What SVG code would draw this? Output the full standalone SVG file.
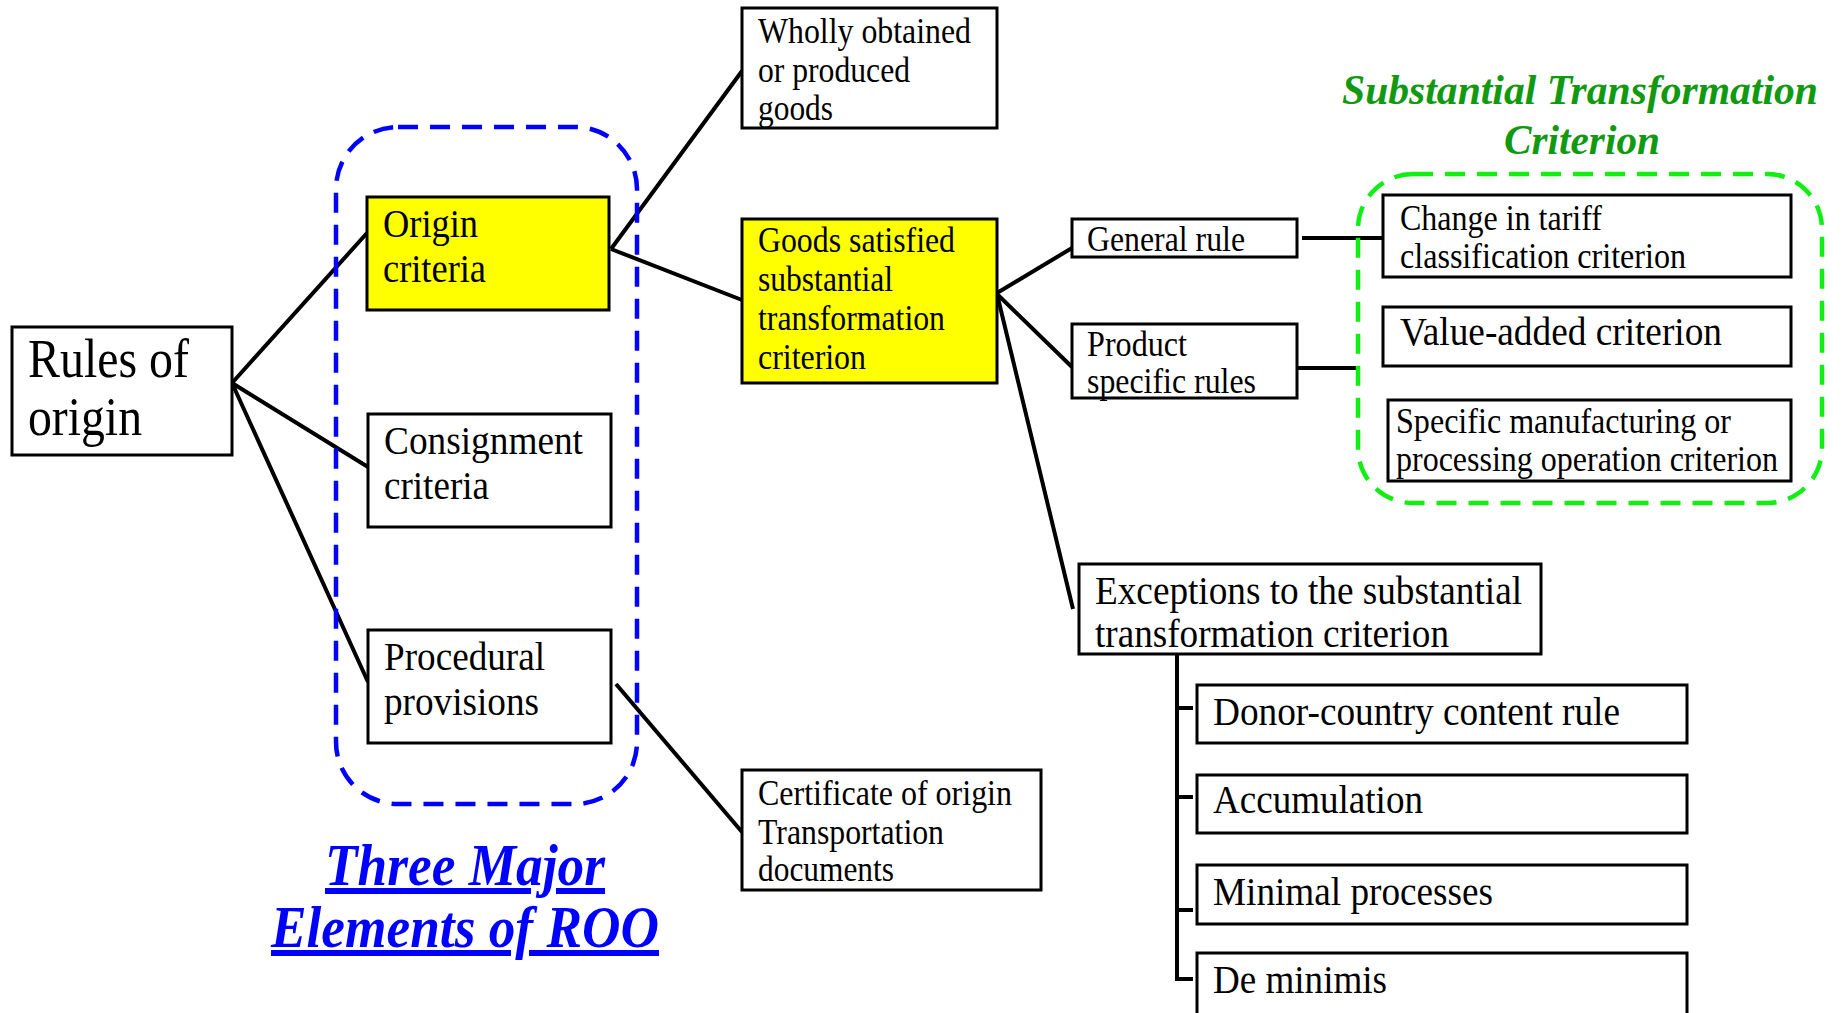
<svg xmlns="http://www.w3.org/2000/svg" width="1843" height="1013" viewBox="0 0 1843 1013">
<style>
.box{fill:#fff;stroke:#000;stroke-width:3}
.yel{fill:#ffff00;stroke:#000;stroke-width:3}
.t{font-family:"Liberation Serif","Times New Roman",serif;fill:#000}
.s{font-size:35px}
.m{font-size:41px}
.l{font-size:54px}
.con{stroke:#000;stroke-width:4;fill:none}
.blue{font-family:"Liberation Serif",serif;font-weight:bold;font-style:italic;font-size:60px;fill:#0000ff;text-decoration:underline}
.green{font-family:"Liberation Serif",serif;font-weight:bold;font-style:italic;font-size:42px;fill:#119911}
</style>
<rect width="1843" height="1013" fill="#fff"/>
<g id="connectors">
<path class="con" d="M232,383 L367,233 M232,383 L368,467 M232,383 L368,682"/>
<path class="con" d="M611,249 L742,71 M611,249 L742,300"/>
<path class="con" d="M616,684 L742,832"/>
<path class="con" d="M997,293 L1072,248 M997,294 L1072,367 M997,294 L1073,609"/>
<path class="con" stroke-width="5" d="M1302,238 L1383,238 M1297,368 L1356,368"/>
<path class="con" stroke-width="3" d="M1177,654 V979 H1193 M1177,708 H1193 M1177,797 H1193 M1177,910 H1193"/>
</g>
<g id="group-three-elements">
<rect x="336" y="127" width="301" height="677" rx="62" fill="none" stroke="#0000ff" stroke-width="4.5" stroke-dasharray="20,12"/>
<text class="blue" x="465" y="885" text-anchor="middle" textLength="280" lengthAdjust="spacingAndGlyphs">Three Major</text>
<text class="blue" x="465" y="947" text-anchor="middle" textLength="388" lengthAdjust="spacingAndGlyphs">Elements of ROO</text>
</g>
<g id="group-substantial">
<rect x="1358" y="174" width="464" height="329" rx="55" fill="none" stroke="#11ee11" stroke-width="4.5" stroke-dasharray="20,12"/>
<text class="green" x="1580" y="104" text-anchor="middle" textLength="476" lengthAdjust="spacingAndGlyphs">Substantial Transformation</text>
<text class="green" x="1582" y="154" text-anchor="middle" textLength="156" lengthAdjust="spacingAndGlyphs">Criterion</text>
</g>
<g id="rules-of-origin">
<rect class="box" x="12" y="327" width="220" height="128"/>
<text class="t l" x="28" y="377" textLength="161" lengthAdjust="spacingAndGlyphs">Rules of</text>
<text class="t l" x="28" y="435" textLength="114" lengthAdjust="spacingAndGlyphs">origin</text>
</g>
<g id="origin-criteria">
<rect class="yel" x="367" y="197" width="242" height="113"/>
<text class="t m" x="383" y="237" textLength="95" lengthAdjust="spacingAndGlyphs">Origin</text>
<text class="t m" x="383" y="282" textLength="103" lengthAdjust="spacingAndGlyphs">criteria</text>
</g>
<g id="consignment-criteria">
<rect class="box" x="368" y="414" width="243" height="113"/>
<text class="t m" x="384" y="454" textLength="199" lengthAdjust="spacingAndGlyphs">Consignment</text>
<text class="t m" x="384" y="499" textLength="105" lengthAdjust="spacingAndGlyphs">criteria</text>
</g>
<g id="procedural-provisions">
<rect class="box" x="368" y="630" width="243" height="113"/>
<text class="t m" x="384" y="670" textLength="161" lengthAdjust="spacingAndGlyphs">Procedural</text>
<text class="t m" x="384" y="715" textLength="155" lengthAdjust="spacingAndGlyphs">provisions</text>
</g>
<g id="wholly-obtained">
<rect class="box" x="742" y="8" width="255" height="120"/>
<text class="t s" x="758" y="43" textLength="213" lengthAdjust="spacingAndGlyphs">Wholly obtained</text>
<text class="t s" x="758" y="82" textLength="152" lengthAdjust="spacingAndGlyphs">or produced</text>
<text class="t s" x="758" y="120" textLength="75" lengthAdjust="spacingAndGlyphs">goods</text>
</g>
<g id="goods-satisfied">
<rect class="yel" x="742" y="219" width="255" height="164"/>
<text class="t s" x="758" y="252" textLength="197" lengthAdjust="spacingAndGlyphs">Goods satisfied</text>
<text class="t s" x="758" y="291" textLength="135" lengthAdjust="spacingAndGlyphs">substantial</text>
<text class="t s" x="758" y="330" textLength="187" lengthAdjust="spacingAndGlyphs">transformation</text>
<text class="t s" x="758" y="369" textLength="108" lengthAdjust="spacingAndGlyphs">criterion</text>
</g>
<g id="certificate">
<rect class="box" x="742" y="770" width="299" height="120"/>
<text class="t s" x="758" y="805" textLength="254" lengthAdjust="spacingAndGlyphs">Certificate of origin</text>
<text class="t s" x="758" y="844" textLength="186" lengthAdjust="spacingAndGlyphs">Transportation</text>
<text class="t s" x="758" y="881" textLength="136" lengthAdjust="spacingAndGlyphs">documents</text>
</g>
<g id="general-rule">
<rect class="box" x="1072" y="219" width="225" height="38"/>
<text class="t s" x="1087" y="251" textLength="158" lengthAdjust="spacingAndGlyphs">General rule</text>
</g>
<g id="product-specific">
<rect class="box" x="1072" y="324" width="225" height="74"/>
<text class="t s" x="1087" y="356" textLength="100" lengthAdjust="spacingAndGlyphs">Product</text>
<text class="t s" x="1087" y="393" textLength="169" lengthAdjust="spacingAndGlyphs">specific rules</text>
</g>
<g id="change-tariff">
<rect class="box" x="1383" y="195" width="408" height="82"/>
<text class="t s" x="1400" y="230" textLength="202" lengthAdjust="spacingAndGlyphs">Change in tariff</text>
<text class="t s" x="1400" y="268" textLength="286" lengthAdjust="spacingAndGlyphs">classification criterion</text>
</g>
<g id="value-added">
<rect class="box" x="1383" y="307" width="408" height="59"/>
<text class="t m" x="1400" y="345" textLength="322" lengthAdjust="spacingAndGlyphs">Value-added criterion</text>
</g>
<g id="specific-manufacturing">
<rect class="box" x="1388" y="400" width="403" height="81"/>
<text class="t s" x="1396" y="433" textLength="335" lengthAdjust="spacingAndGlyphs">Specific manufacturing or</text>
<text class="t s" x="1396" y="471" textLength="382" lengthAdjust="spacingAndGlyphs">processing operation criterion</text>
</g>
<g id="exceptions">
<rect class="box" x="1079" y="564" width="462" height="90"/>
<text class="t m" x="1095" y="604" textLength="427" lengthAdjust="spacingAndGlyphs">Exceptions to the substantial</text>
<text class="t m" x="1095" y="647" textLength="354" lengthAdjust="spacingAndGlyphs">transformation criterion</text>
</g>
<g id="donor-country">
<rect class="box" x="1197" y="685" width="490" height="58"/>
<text class="t m" x="1213" y="725" textLength="407" lengthAdjust="spacingAndGlyphs">Donor-country content rule</text>
</g>
<g id="accumulation">
<rect class="box" x="1197" y="775" width="490" height="58"/>
<text class="t m" x="1213" y="813" textLength="210" lengthAdjust="spacingAndGlyphs">Accumulation</text>
</g>
<g id="minimal-processes">
<rect class="box" x="1197" y="865" width="490" height="59"/>
<text class="t m" x="1213" y="905" textLength="280" lengthAdjust="spacingAndGlyphs">Minimal processes</text>
</g>
<g id="de-minimis">
<rect class="box" x="1197" y="953" width="490" height="64"/>
<text class="t m" x="1213" y="993" textLength="174" lengthAdjust="spacingAndGlyphs">De minimis</text>
</g>
</svg>
